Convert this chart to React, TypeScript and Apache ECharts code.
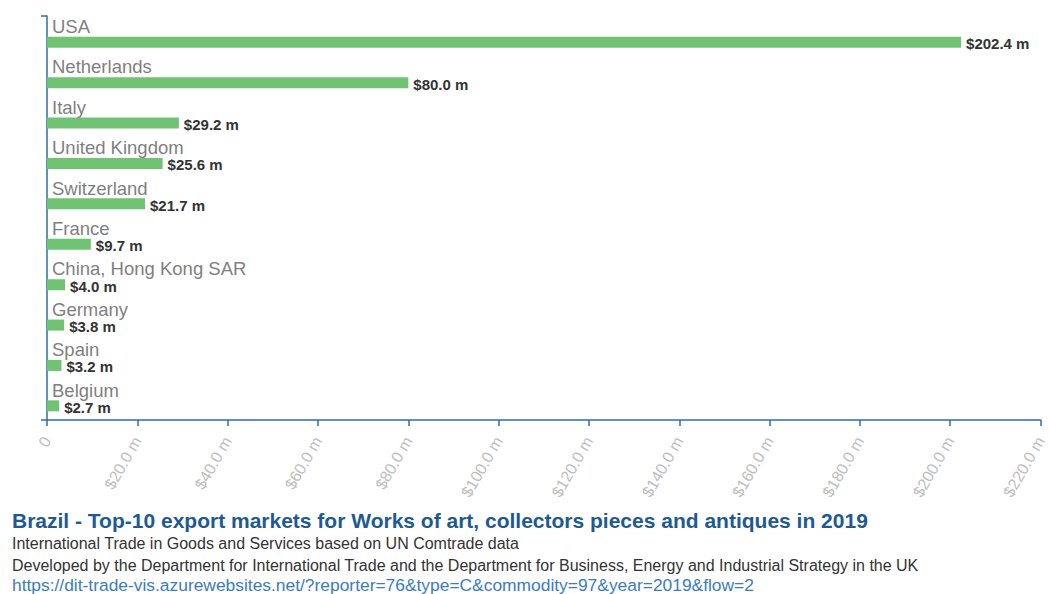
import React, { useEffect, useRef } from "react";
import * as echarts from "echarts";

const categories = [
  "USA",
  "Netherlands",
  "Italy",
  "United Kingdom",
  "Switzerland",
  "France",
  "China, Hong Kong SAR",
  "Germany",
  "Spain",
  "Belgium",
];
const values = [202.4, 80.0, 29.2, 25.6, 21.7, 9.7, 4.0, 3.8, 3.2, 2.7];
const xTicks = { min: 0, max: 220, interval: 20 };

const titleText =
  "Brazil - Top-10 export markets for Works of art, collectors pieces and antiques in 2019";
const subtitle1 = "International Trade in Goods and Services based on UN Comtrade data";
const subtitle2 =
  "Developed by the Department for International Trade and the Department for Business, Energy and Industrial Strategy in the UK";
const linkText =
  "https://dit-trade-vis.azurewebsites.net/?reporter=76&type=C&commodity=97&year=2019&flow=2";

const FONT = "Arial, 'Liberation Sans', Helvetica, sans-serif";
const AXIS_BLUE = "#2f6da6";
const BAR_GREEN = "#70c373";

export default function App() {
  const ref = useRef<HTMLDivElement>(null);

  useEffect(() => {
    if (!ref.current) return;
    const chart = echarts.init(ref.current, null, { renderer: "svg" });
    const data = values.map((v, i) => [v, i]);

    chart.setOption({
      animation: false,
      backgroundColor: "#ffffff",
      textStyle: { fontFamily: FONT },
      grid: { left: 47, right: 5, top: 16, bottom: 174, containLabel: false },
      xAxis: {
        type: "value",
        min: xTicks.min,
        max: xTicks.max,
        interval: xTicks.interval,
        axisLine: { show: true, lineStyle: { color: AXIS_BLUE, width: 1.5 } },
        axisTick: { show: true, length: 6, lineStyle: { color: AXIS_BLUE, width: 1.5 } },
        splitLine: { show: false },
        axisLabel: {
          rotate: 60,
          margin: 18,
          color: "#bdbdbd",
          fontSize: 16,
          fontFamily: FONT,
          showMaxLabel: true,
          showMinLabel: true,
          formatter: (v: number) => (v === 0 ? "0" : "$" + v.toFixed(1) + " m"),
        },
      },
      yAxis: {
        type: "category",
        data: categories,
        inverse: true,
        axisLine: { show: true, lineStyle: { color: AXIS_BLUE, width: 1.5 } },
        axisTick: { show: false },
        axisLabel: { show: false },
        splitLine: { show: false },
      },
      graphic: [
        {
          type: "line",
          shape: { x1: 41, y1: 16, x2: 47, y2: 16 },
          style: { stroke: AXIS_BLUE, lineWidth: 1.5 },
        },
        {
          type: "line",
          shape: { x1: 41, y1: 420, x2: 47, y2: 420 },
          style: { stroke: AXIS_BLUE, lineWidth: 1.5 },
        },
        {
          type: "text",
          left: 12,
          top: 510,
          style: {
            text: titleText,
            fill: "#1d5a94",
            font: `bold 21px ${FONT}`,
          },
        },
        {
          type: "text",
          left: 12,
          top: 535,
          style: { text: subtitle1, fill: "#333333", font: `16px ${FONT}` },
        },
        {
          type: "text",
          left: 12,
          top: 557,
          style: { text: subtitle2, fill: "#333333", font: `16px ${FONT}` },
        },
        {
          type: "text",
          left: 12,
          top: 576,
          style: { text: linkText, fill: "#3a7cc2", font: `17.4px ${FONT}` },
        },
      ],
      series: [
        {
          type: "custom",
          data,
          encode: { x: 0, y: 1 },
          renderItem: (params: any, api: any) => {
            const idx = api.value(1);
            const val = api.value(0);
            const start = api.coord([0, idx]);
            const end = api.coord([val, idx]);
            const bandH = api.size([0, 1])[1];
            const top = start[1] - bandH / 2;
            const cy = start[1] + bandH * 0.15;
            const h = 11;
            return {
              type: "group",
              children: [
                {
                  type: "rect",
                  shape: { x: start[0], y: cy - h / 2, width: end[0] - start[0], height: h },
                  style: { fill: BAR_GREEN },
                },
                {
                  type: "text",
                  style: {
                    text: "$" + val.toFixed(1) + " m",
                    x: end[0] + 5,
                    y: cy + 1.5,
                    align: "left",
                    verticalAlign: "middle",
                    fill: "#333333",
                    font: `bold 15px ${FONT}`,
                  },
                },
                {
                  type: "text",
                  style: {
                    text: categories[idx],
                    x: start[0] + 5,
                    y: top + 10.5,
                    align: "left",
                    verticalAlign: "middle",
                    fill: "#7f7f7f",
                    font: `18.5px ${FONT}`,
                  },
                },
              ],
            };
          },
        },
      ],
    });

    return () => chart.dispose();
  }, []);

  return (
    <div
      ref={ref}
      style={{ position: "fixed", left: 0, top: 0, width: 1049, height: 594 }}
    />
  );
}
